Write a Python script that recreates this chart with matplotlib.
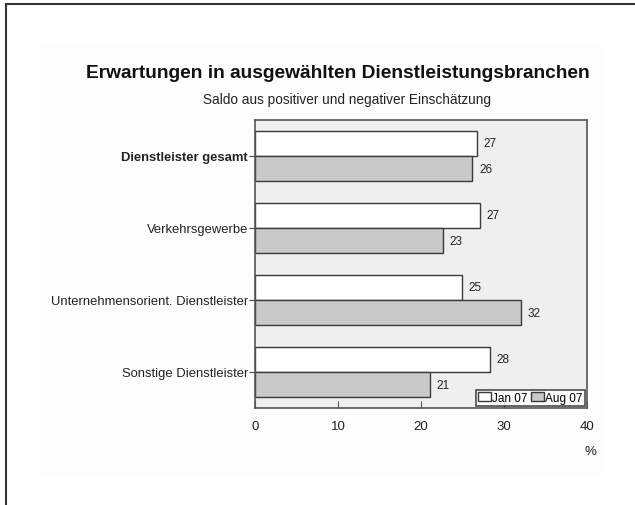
import matplotlib.pyplot as plt
import matplotlib.patches as mpatches
from matplotlib.lines import Line2D
import numpy as np

plt.rcParams['font.family'] = ['Liberation Sans', 'DejaVu Sans']

categories = ['Dienstleister gesamt', 'Verkehrsgewerbe',
              'Unternehmensorient. Dienstleister', 'Sonstige Dienstleister']
jan07 = [26.7, 27.1, 24.9, 28.3]
aug07 = [26.2, 22.6, 32.0, 21.1]
jan07_labels = ['27', '27', '25', '28']
aug07_labels = ['26', '23', '32', '21']
series_names = ['Jan 07', 'Aug 07']
xticks = [0, 10, 20, 30, 40]

W, H = 635, 506
fig = plt.figure(figsize=(W / 100, H / 100), dpi=100)
fig.patch.set_facecolor('white')

# faint inner panel + frame lines (top / left)
fig.add_artist(mpatches.Rectangle((40 / W, 1 - 477 / H), 563 / W, 431 / H,
                                  transform=fig.transFigure, facecolor='#fdfdfd',
                                  edgecolor='none', zorder=0))
fig.add_artist(Line2D([6 / W, 1], [1 - 5 / H, 1 - 5 / H], color='#333333', lw=1.5))
fig.add_artist(Line2D([6 / W, 6 / W], [0, 1 - 5 / H], color='#333333', lw=1.5))

left, right, top, bottom = 255, 587, 121, 409
ax = fig.add_axes([left / W, 1 - bottom / H, (right - left) / W, (bottom - top) / H])
ax.set_facecolor('#efefef')

y = np.arange(len(categories))
h = 0.354
b1 = ax.barh(y - h / 2, jan07, height=h, color='white', edgecolor='#3a3a3a', lw=1)
b2 = ax.barh(y + h / 2, aug07, height=h, color='#c9c9c9', edgecolor='#3a3a3a', lw=1)

for bars, labs in ((b1, jan07_labels), (b2, aug07_labels)):
    for bar, lab in zip(bars, labs):
        ax.text(bar.get_width() + 0.8, bar.get_y() + bar.get_height() / 2, lab,
                va='center', ha='left', fontsize=8.5, color='#222222')

ax.set_xlim(0, 40)
ax.set_ylim(3.5, -0.5)
ax.set_xticks(xticks)
ax.tick_params(axis='x', direction='in', length=5, pad=9, labelsize=9.5,
               color='#555555', labelcolor='#222222')
ax.set_yticks(y)
ax.set_yticklabels(categories)
ax.tick_params(axis='y', direction='out', length=4, pad=1, labelsize=9.4,
               color='#444444', labelcolor='#222222')
ax.get_yticklabels()[0].set_fontweight('bold')
for s in ax.spines.values():
    s.set_color('#555555')
    s.set_linewidth(1.2)

leg = ax.legend([b1, b2], series_names, loc='lower right', ncol=2, fontsize=8.5,
                frameon=True, fancybox=False, borderpad=0.2, handlelength=1.1,
                handleheight=0.8, handletextpad=0.1, columnspacing=0.3,
                borderaxespad=0.15)
leg.get_frame().set_edgecolor('#222222')
leg.get_frame().set_linewidth(1.2)

fig.text(338 / W, 1 - 74 / H, 'Erwartungen in ausgewählten Dienstleistungsbranchen',
         ha='center', va='center', fontsize=13.8, fontweight='bold', color='#111111')
fig.text(347 / W, 1 - 100 / H, 'Saldo aus positiver und negativer Einschätzung',
         ha='center', va='center', fontsize=9.8, color='#222222')
fig.text(590 / W, 1 - 452 / H, '%', ha='center', va='center', fontsize=9.5,
         color='#222222')

fig.savefig('out.png', dpi=100)
